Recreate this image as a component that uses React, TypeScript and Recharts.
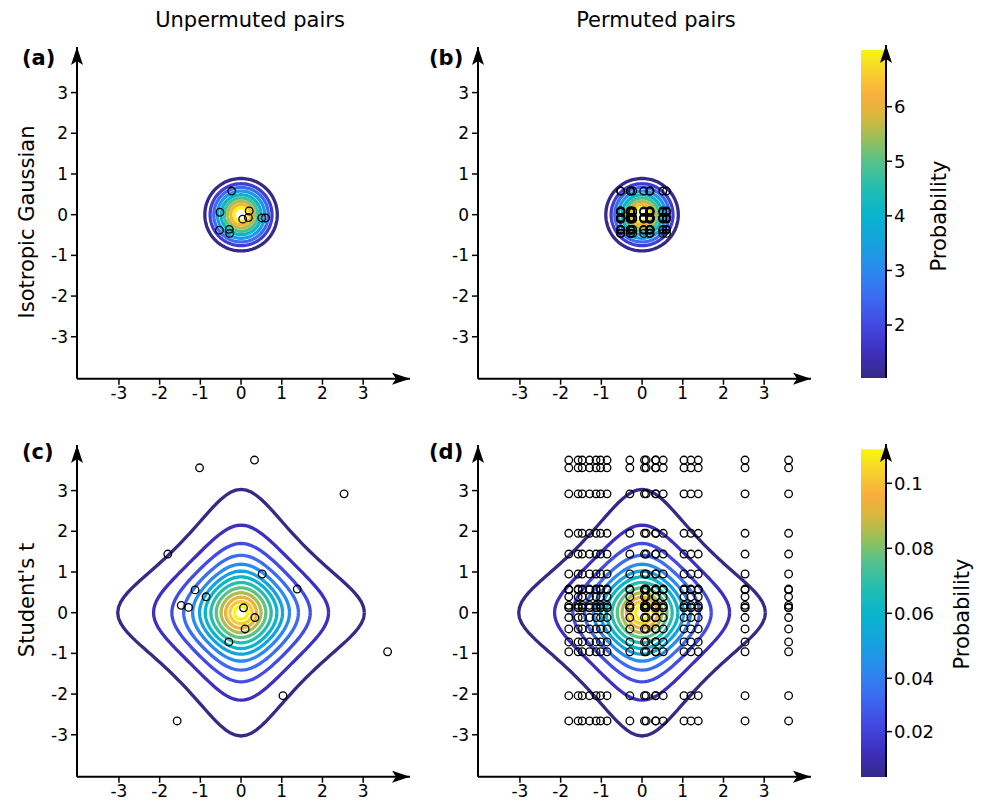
import React from 'react';
import { ComposedChart, Line, Scatter, XAxis, YAxis, ReferenceArea } from 'recharts';

// colour bar stops, bottom -> top
const barStops: [number, string][] = [
  [0.0, '#352a87'],
  [0.08, '#3d2fbf'],
  [0.16, '#4348e3'],
  [0.25, '#3b6cf2'],
  [0.33, '#2a8aee'],
  [0.41, '#16a2df'],
  [0.5, '#08b5cc'],
  [0.58, '#24bdb0'],
  [0.66, '#56c28a'],
  [0.74, '#a3bf52'],
  [0.8, '#dbb63c'],
  [0.86, '#f9ae3d'],
  [0.93, '#f7d02d'],
  [1.0, '#f9f50f'],
];

// panel (a): isotropic Gaussian samples
const gaussX = [-0.23, -0.52, -0.53, -0.29, -0.28, 0.2, 0.18, 0.04, 0.51, 0.6];
const gaussY = [0.58, 0.06, -0.38, -0.36, -0.46, 0.09, -0.07, -0.11, -0.08, -0.08];
// radius of each circular contour, outermost first
const gaussRadii = [0.89, 0.76, 0.67, 0.58, 0.49, 0.41, 0.33, 0.25, 0.17];

// panel (c): Student's t samples (last two lie outside the view)
const tX = [-1.02, 0.33, 2.53, -1.8, 0.52, -1.13, 1.38, -0.86, -1.47, -1.29, 0.06, 0.34, 0.1, -0.3, 3.6, 1.03, -1.57, -5.3, 1.2];
const tY = [3.56, 3.75, 2.92, 1.44, 0.95, 0.56, 0.58, 0.39, 0.18, 0.13, 0.12, -0.12, -0.4, -0.72, -0.96, -2.04, -2.66, 1.95, -6.1];
// where each t contour crosses the x axis, outermost first
const tHalfWidths = [3.03, 2.15, 1.7, 1.41, 1.19, 1.02, 0.88, 0.74, 0.61, 0.49, 0.38, 0.27, 0.16];
const tDof = 1.6;

const axisTicks = [-3, -2, -1, 0, 1, 2, 3];
const gaussBarTicks = [2, 3, 4, 5, 6];
const tBarTickLabels = ['0.02', '0.04', '0.06', '0.08', '0.1'];
const tBarTickPos = [0.0236, 0.04, 0.06, 0.08, 0.1];

const X_DOMAIN: [number, number] = [-4.03, 4.15];
const Y_DOMAIN: [number, number] = [-4.03, 4.12];
const PW = 333;
const PH = 331.7;
const YW = 50;
const XH = 30;

const hex = (h: string) => [1, 3, 5].map((i) => parseInt(h.slice(i, i + 2), 16));
const colorAt = (f: number) => {
  for (let i = 0; i < barStops.length - 1; i++) {
    const [f0, c0] = barStops[i];
    const [f1, c1] = barStops[i + 1];
    if (f <= f1) {
      const t = (f - f0) / (f1 - f0);
      const a = hex(c0);
      const b = hex(c1);
      return `rgb(${a.map((v, k) => Math.round(v + (b[k] - v) * t)).join(',')})`;
    }
  }
  return barStops[barStops.length - 1][1];
};

const angles = Array.from({ length: 145 }, (_, i) => (i * 2.5 * Math.PI) / 180);

const circle = (r: number) => angles.map((a) => ({ x: r * Math.cos(a), y: r * Math.sin(a) }));

// level set of the product of two t densities that crosses the x axis at a
const tLoop = (a: number) => {
  const s = Math.sqrt(tDof);
  const K = (a / s) ** 2;
  return angles.map((th) => {
    const c2s2 = Math.cos(th) ** 2 * Math.sin(th) ** 2;
    const u = c2s2 < 1e-9 ? K : (-1 + Math.sqrt(1 + 4 * c2s2 * K)) / (2 * c2s2);
    const r = Math.sqrt(u) * s;
    return { x: r * Math.cos(th), y: r * Math.sin(th) };
  });
};

const inView = (p: { x: number; y: number }) =>
  p.x > X_DOMAIN[0] && p.x < X_DOMAIN[1] && p.y > Y_DOMAIN[0] && p.y < Y_DOMAIN[1];

const paired = (xs: number[], ys: number[]) => xs.map((x, i) => ({ x, y: ys[i] })).filter(inView);
const allPairs = (xs: number[], ys: number[]) => xs.flatMap((x) => ys.map((y) => ({ x, y }))).filter(inView);

const gaussContours = gaussRadii.map((r, k) => ({ color: colorAt(k / (gaussRadii.length - 1)), pts: circle(r) }));
const tContours = tHalfWidths.map((a, k) => ({ color: colorAt(k / (tHalfWidths.length - 1)), pts: tLoop(a) }));

const Arrow = ({ id }: { id: string }) => (
  <marker id={id} markerUnits="userSpaceOnUse" markerWidth={18} markerHeight={12} refX={18} refY={6} orient="auto-start-reverse" viewBox="0 0 18 12">
    <path d="M0,0 L18,6 L0,12 L4,6 Z" fill="#000" />
  </marker>
);

const ring = (p: any) => <circle cx={p.cx} cy={p.cy} r={3.8} fill="none" stroke="#000" strokeWidth={1.3} />;

type Contour = { color: string; pts: { x: number; y: number }[] };

function Panel({ id, left, top, contours, points }: { id: string; left: number; top: number; contours: Contour[]; points: { x: number; y: number }[] }) {
  return (
    <div style={{ position: 'absolute', left: left - YW, top }}>
      <ComposedChart width={YW + PW} height={PH + XH} margin={{ top: 0, right: 0, bottom: 0, left: 0 }}>
        <defs>
          <Arrow id={id} />
        </defs>
        <XAxis
          type="number"
          dataKey="x"
          domain={X_DOMAIN}
          ticks={axisTicks}
          interval={0}
          allowDataOverflow
          height={XH}
          axisLine={{ stroke: '#000', strokeWidth: 2, markerEnd: `url(#${id})` } as any}
          tickLine={{ stroke: '#000', strokeWidth: 1.5 }}
          tickSize={6}
          tickMargin={2}
          tick={{ fill: '#000', fontSize: 17 }}
        />
        <YAxis
          type="number"
          dataKey="y"
          domain={Y_DOMAIN}
          ticks={axisTicks}
          interval={0}
          allowDataOverflow
          width={YW}
          axisLine={{ stroke: '#000', strokeWidth: 2, markerStart: `url(#${id})` } as any}
          tickLine={{ stroke: '#000', strokeWidth: 1.5 }}
          tickSize={6}
          tickMargin={3}
          tick={{ fill: '#000', fontSize: 17 }}
        />
        {contours.map((c, i) => (
          <Line key={i} data={c.pts} dataKey="y" stroke={c.color} strokeWidth={3.3} dot={false} isAnimationActive={false} />
        ))}
        <Scatter data={points} dataKey="y" shape={ring} isAnimationActive={false} />
      </ComposedChart>
    </div>
  );
}

function ColorBar({ id, left, top, height, domain, area, ticks, fmt }: { id: string; left: number; top: number; height: number; domain: [number, number]; area: [number, number]; ticks: number[]; fmt: (v: number) => string }) {
  return (
    <div style={{ position: 'absolute', left, top }}>
      <ComposedChart width={25 + 70} height={height} margin={{ top: 0, right: 0, bottom: 0, left: 0 }} data={[{ x: 0 }, { x: 1 }]}>
        <defs>
          <Arrow id={id} />
          <linearGradient id={`${id}g`} x1="0" y1="1" x2="0" y2="0">
            {barStops.map(([f, c]) => (
              <stop key={f} offset={f} stopColor={c} />
            ))}
          </linearGradient>
        </defs>
        <XAxis type="number" dataKey="x" domain={[0, 1]} hide />
        <ReferenceArea x1={0} x2={1} y1={area[0]} y2={area[1]} fill={`url(#${id}g)`} fillOpacity={1} stroke="none" ifOverflow="visible" />
        <YAxis
          orientation="right"
          type="number"
          domain={domain}
          ticks={ticks}
          interval={0}
          allowDataOverflow
          width={70}
          tickFormatter={fmt}
          axisLine={{ stroke: '#000', strokeWidth: 2, markerStart: `url(#${id})` } as any}
          tickLine={{ stroke: '#000', strokeWidth: 1.5 }}
          tickSize={6}
          tickMargin={2}
          tick={{ fill: '#000', fontSize: 18 }}
        />
      </ComposedChart>
    </div>
  );
}

export default function App() {
  const label = { fontSize: 21, fill: '#000' } as const;
  const bold = { fontSize: 21, fontWeight: 700, fill: '#000' } as const;
  return (
    <div style={{ position: 'absolute', left: 0, top: 0, width: 983, height: 808, background: '#fff', fontFamily: 'DejaVu Sans' }}>
      <Panel id="arA" left={77.3} top={46.6} contours={gaussContours} points={paired(gaussX, gaussY)} />
      <Panel id="arB" left={478.3} top={46.6} contours={gaussContours} points={allPairs(gaussX, gaussY)} />
      <Panel id="arC" left={77.3} top={445} contours={tContours} points={paired(tX, tY)} />
      <Panel id="arD" left={478.3} top={445} contours={tContours} points={allPairs(tX, tY)} />
      <ColorBar id="cbA" left={861} top={45} height={333.3} domain={[1.024, 7.13]} area={[1.024, 7.04]} ticks={gaussBarTicks} fmt={(v) => String(v)} />
      <ColorBar
        id="cbB"
        left={861}
        top={444}
        height={333.3}
        domain={[0.00954, 0.1121]}
        area={[0.00954, 0.11046]}
        ticks={tBarTickPos}
        fmt={(v) => tBarTickLabels[tBarTickPos.indexOf(v)]}
      />
      <svg width={983} height={808} style={{ position: 'absolute', left: 0, top: 0, pointerEvents: 'none' }}>
        <text x={250} y={27} textAnchor="middle" style={label}>Unpermuted pairs</text>
        <text x={656} y={27} textAnchor="middle" style={label}>Permuted pairs</text>
        <text transform="translate(27,222) rotate(-90)" textAnchor="middle" dominantBaseline="central" style={label}>Isotropic Gaussian</text>
        <text transform="translate(27,600) rotate(-90)" textAnchor="middle" dominantBaseline="central" style={label}>Student's t</text>
        <text transform="translate(939,216) rotate(-90)" textAnchor="middle" dominantBaseline="central" style={label}>Probability</text>
        <text transform="translate(962,614) rotate(-90)" textAnchor="middle" dominantBaseline="central" style={label}>Probability</text>
        <text x={22} y={65} style={bold}>(a)</text>
        <text x={429} y={65} style={bold}>(b)</text>
        <text x={22} y={459} style={bold}>(c)</text>
        <text x={429} y={459} style={bold}>(d)</text>
      </svg>
    </div>
  );
}
